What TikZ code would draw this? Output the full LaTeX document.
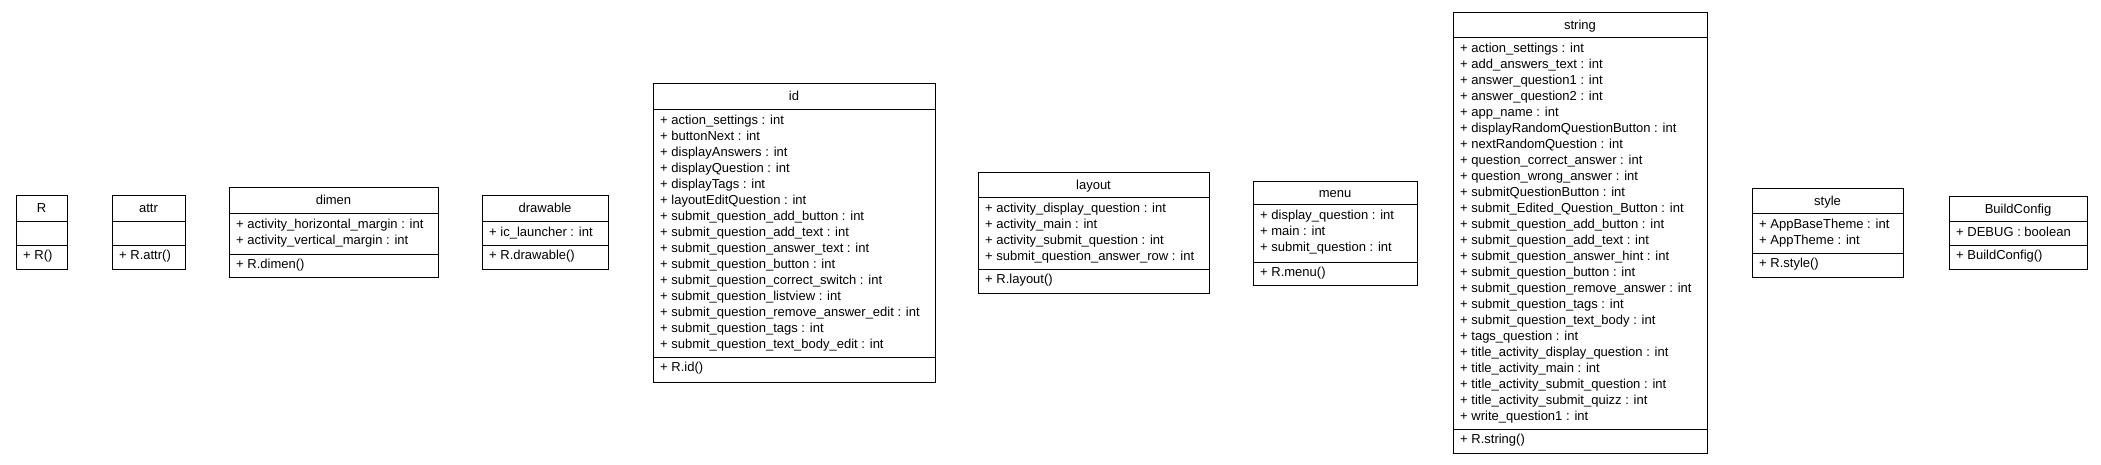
\documentclass[tikz,border=0pt]{standalone}
\usepackage{fontspec}
\setmainfont{Liberation Sans}
\usetikzlibrary{fit}
\tikzset{
  classframe/.style={draw=black, line width=1pt, inner sep=0pt},
  sepline/.style={draw=black, line width=1pt},
  classtext/.style={inner sep=0pt, font=\fontsize{13}{16}\selectfont},
  membertext/.style={classtext, align=left, anchor=north west},
}
\newcommand\firstline{\rule{0pt}{11pt}}
% #1 name, #2 x1, #3 x2, #4 ytop, #5 y title sep, #6 y attr sep, #7 ybottom, #8 title, #9 attributes; then {operations}
\newcommand\umlbox[9]{\def\uN{#1}\def\uXa{#2}\def\uXb{#3}\def\uYa{#4}\def\uYt{#5}\def\uYs{#6}\def\uYb{#7}\def\uT{#8}\def\uA{#9}\umlboxfinish}
\newcommand\umlboxfinish[1]{%
  \node[classframe, fit={(\uXa,\uYa)(\uXb,\uYb)}] (\uN) {};
  \draw[sepline] (\uXa,\uYt) -- (\uXb,\uYt);
  \draw[sepline] (\uXa,\uYs) -- (\uXb,\uYs);
  \node[classtext, anchor=base] (\uN-title) at ({(\uXa+\uXb)/2},{(\uYa+\uYt)/2+4.5}) {\uT};
  \node[membertext] (\uN-attrs) at ({\uXa+7},{\uYt+4}) {\firstline\uA};
  \node[membertext] (\uN-ops) at ({\uXa+7},{\uYs+3}) {\firstline#1};
}
\begin{document}
\begin{tikzpicture}[x=1pt,y=-1pt]
\useasboundingbox[fill=white] (0,0) rectangle (2101,464);

\umlbox{R}{16}{67}{195}{221}{245}{269}{R}{}{+ R()}

\umlbox{attr}{112}{185}{195}{221}{245}{269}{attr}{}{+ R.attr()}

\umlbox{dimen}{229}{438}{187}{213}{254}{277}{dimen}{%
+ activity\_horizontal\_margin : int\\
+ activity\_vertical\_margin : int}{+ R.dimen()}

\umlbox{drawable}{482}{608}{195}{221}{245}{269}{drawable}{%
+ ic\_launcher : int}{+ R.drawable()}

\umlbox{id}{653}{935}{83}{109}{357}{382}{id}{%
+ action\_settings : int\\
+ buttonNext : int\\
+ displayAnswers : int\\
+ displayQuestion : int\\
+ displayTags : int\\
+ layoutEditQuestion : int\\
+ submit\_question\_add\_button : int\\
+ submit\_question\_add\_text : int\\
+ submit\_question\_answer\_text : int\\
+ submit\_question\_button : int\\
+ submit\_question\_correct\_switch : int\\
+ submit\_question\_listview : int\\
+ submit\_question\_remove\_answer\_edit : int\\
+ submit\_question\_tags : int\\
+ submit\_question\_text\_body\_edit : int}{+ R.id()}

\umlbox{layout}{978}{1209}{172}{197}{269}{293}{layout}{%
+ activity\_display\_question : int\\
+ activity\_main : int\\
+ activity\_submit\_question : int\\
+ submit\_question\_answer\_row : int}{+ R.layout()}

\umlbox{menu}{1253}{1417}{181}{204}{262}{285}{menu}{%
+ display\_question : int\\
+ main : int\\
+ submit\_question : int}{+ R.menu()}

\umlbox{string}{1453}{1707}{12}{37}{429}{453}{string}{%
+ action\_settings : int\\
+ add\_answers\_text : int\\
+ answer\_question1 : int\\
+ answer\_question2 : int\\
+ app\_name : int\\
+ displayRandomQuestionButton : int\\
+ nextRandomQuestion : int\\
+ question\_correct\_answer : int\\
+ question\_wrong\_answer : int\\
+ submitQuestionButton : int\\
+ submit\_Edited\_Question\_Button : int\\
+ submit\_question\_add\_button : int\\
+ submit\_question\_add\_text : int\\
+ submit\_question\_answer\_hint : int\\
+ submit\_question\_button : int\\
+ submit\_question\_remove\_answer : int\\
+ submit\_question\_tags : int\\
+ submit\_question\_text\_body : int\\
+ tags\_question : int\\
+ title\_activity\_display\_question : int\\
+ title\_activity\_main : int\\
+ title\_activity\_submit\_question : int\\
+ title\_activity\_submit\_quizz : int\\
+ write\_question1 : int}{+ R.string()}

\umlbox{style}{1752}{1903}{188}{213}{253}{277}{style}{%
+ AppBaseTheme : int\\
+ AppTheme : int}{+ R.style()}

\umlbox{BuildConfig}{1949}{2087}{196}{221}{245}{269}{BuildConfig}{%
+ DEBUG : boolean}{+ BuildConfig()}
\end{tikzpicture}
\end{document}
